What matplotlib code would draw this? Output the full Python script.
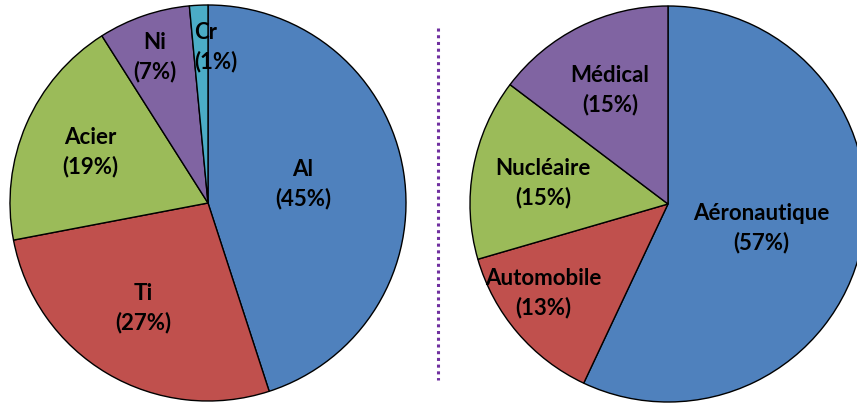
import matplotlib
matplotlib.use("Agg")
import matplotlib.pyplot as plt

# --- left pie: materials ---
mat_names = ["Al", "Ti", "Acier", "Ni", "Cr"]
mat_share = [45, 27, 19, 7.5, 1.5]
mat_pct = ["45%", "27%", "19%", "7%", "1%"]

# --- right pie: sectors ---
sec_names = ["Aéronautique", "Automobile", "Nucléaire", "Médical"]
sec_share = [57, 13.5, 14.8, 14.7]
sec_pct = ["57%", "13%", "15%", "15%"]

BLUE, RED, GREEN, PURPLE, CYAN = "#4F81BD", "#C0504D", "#9BBB59", "#8064A2", "#4BACC6"
W, H = 857, 405

# label centres in pixel coords (y from top)
mat_pos = [(303, 184), (143, 308), (90, 152), (155, 57), (194, 47)]
sec_pos = [(761, 228), (543, 293), (543, 183), (610, 90)]

fig = plt.figure(figsize=(W / 100, H / 100), dpi=100)
ax = fig.add_axes([0, 0, 1, 1])

wedge = dict(edgecolor="black", linewidth=1.0)
ax.pie(mat_share, colors=[BLUE, RED, GREEN, PURPLE, CYAN], startangle=90,
       counterclock=False, center=(208, H - 203), radius=198, wedgeprops=wedge,
       frame=True)
ax.pie(sec_share, colors=[BLUE, RED, GREEN, PURPLE], startangle=90,
       counterclock=False, center=(668, H - 204), radius=198, wedgeprops=wedge,
       frame=True)
ax.set_xlim(0, W)
ax.set_ylim(0, H)
ax.set_aspect("equal")
ax.axis("off")

font = dict(family=["Lato", "DejaVu Sans"], fontweight="bold", fontsize=16,
            linespacing=1.4, va="center")
for name, pct, (x, y) in zip(mat_names, mat_pct, mat_pos):
    if name == "Cr":
        ax.text(x, H - y, f"{name}\n({pct})", ha="left", multialignment="left", **font)
    else:
        ax.text(x, H - y, f"{name}\n({pct})", ha="center", multialignment="center", **font)
for name, pct, (x, y) in zip(sec_names, sec_pct, sec_pos):
    ax.text(x, H - y, f"{name}\n({pct})", ha="center", multialignment="center", **font)

# dotted separator
ax.plot([438, 438], [H - 28, H - 380], color="#7030A0", lw=2.2, ls=(0, (1, 1.2)))

fig.savefig("out.png", dpi=100)
